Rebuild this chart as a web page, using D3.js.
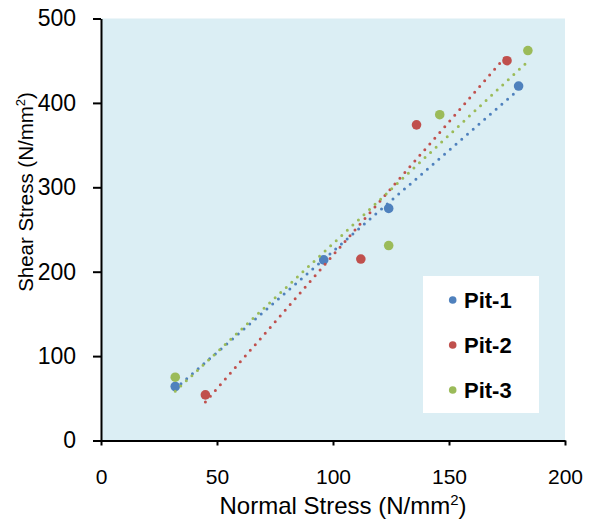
<!DOCTYPE html>
<html><head><meta charset="utf-8">
<script src="https://cdn.jsdelivr.net/npm/d3@7"></script>
<style>body{margin:0;background:#fff}svg{display:block;font-family:"Liberation Sans",Arial,sans-serif}</style>
</head><body><svg id="c" width="591" height="520"></svg>
<script>
const seriesNames = ["Pit-1", "Pit-2", "Pit-3"];
const pit1X = [32, 96, 124, 180];
const pit1Y = [64, 214, 275, 420];
const pit2X = [45, 112, 136, 175];
const pit2Y = [54, 215, 374, 450];
const pit3X = [32, 124, 146, 184];
const pit3Y = [75, 231, 386, 462];
const xTicks = [0, 50, 100, 150, 200];
const yTicks = [0, 100, 200, 300, 400, 500];
const colors = ["#4F81BD", "#C0504D", "#9BBB59"];

const series = [
  {name: seriesNames[0], xs: pit1X, ys: pit1Y, color: colors[0]},
  {name: seriesNames[1], xs: pit2X, ys: pit2Y, color: colors[1]},
  {name: seriesNames[2], xs: pit3X, ys: pit3Y, color: colors[2]}
];

const svg = d3.select("#c");
const x = d3.scaleLinear().domain([0, 200]).range([101, 565]);
const y = d3.scaleLinear().domain([0, 500]).range([440.5, 18.5]);

svg.append("rect").attr("x", x(0)).attr("y", y(500)).attr("width", x(200) - x(0)).attr("height", y(0) - y(500)).attr("fill", "#DBEEF4");

// axes
const yAxis = svg.append("g").attr("transform", `translate(${x(0)},0)`)
  .call(d3.axisLeft(y).tickValues(yTicks).tickSize(8).tickPadding(17).tickSizeOuter(0));
const xAxis = svg.append("g").attr("transform", `translate(0,${y(0)})`)
  .call(d3.axisBottom(x).tickValues(xTicks).tickSize(5).tickPadding(24).tickSizeOuter(0));
[xAxis, yAxis].forEach(g => {
  g.select(".domain").attr("stroke", "#000").attr("stroke-width", 2);
  g.selectAll(".tick line").attr("stroke", "#000").attr("stroke-width", 2);
  g.selectAll(".tick text").attr("fill", "#000").style("font-family", "'Liberation Sans', Arial, sans-serif");
});
xAxis.selectAll(".tick text").style("font-size", "21px");
yAxis.selectAll(".tick text").style("font-size", "23px");

// points
series.forEach(s => {
  svg.append("g").selectAll("circle").data(s.xs.map((v, i) => [v, s.ys[i]])).join("circle")
    .attr("cx", d => x(d[0])).attr("cy", d => y(d[1])).attr("r", 4.8).attr("fill", s.color);
});

// linear trendlines
series.forEach(s => {
  const mx = d3.mean(s.xs), my = d3.mean(s.ys);
  let sxy = 0, sxx = 0;
  s.xs.forEach((v, i) => { sxy += (v - mx) * (s.ys[i] - my); sxx += (v - mx) * (v - mx); });
  const b = sxy / sxx, a = my - b * mx;
  const x0 = d3.min(s.xs), x1 = d3.max(s.xs);
  svg.append("line").attr("x1", x(x0)).attr("y1", y(a + b * x0)).attr("x2", x(x1)).attr("y2", y(a + b * x1))
    .attr("stroke", s.color).attr("stroke-width", 3).attr("stroke-linecap", "round").attr("stroke-dasharray", "0 7.6");
});

// legend
const lg = svg.append("g");
lg.append("rect").attr("x", 423).attr("y", 276).attr("width", 116).attr("height", 137).attr("fill", "#fff");
series.forEach((s, i) => {
  const cy = 300 + i * 45;
  lg.append("circle").attr("cx", 452.7).attr("cy", cy).attr("r", 3.8).attr("fill", s.color);
  lg.append("text").attr("x", 464).attr("y", cy + 7.8).attr("font-size", 22).attr("font-weight", "bold").attr("fill", "#000").text(s.name);
});

// axis titles
const xt = svg.append("text").attr("x", 343).attr("y", 514).attr("text-anchor", "middle").attr("font-size", 24).attr("fill", "#000");
xt.append("tspan").text("Normal Stress (N/mm");
xt.append("tspan").attr("font-size", 15).attr("dy", -9).text("2");
xt.append("tspan").attr("dy", 9).text(")");

const yt = svg.append("text").attr("transform", "translate(33,192) rotate(-90)").attr("text-anchor", "middle").attr("font-size", 20.5).attr("fill", "#000");
yt.append("tspan").text("Shear Stress (N/mm");
yt.append("tspan").attr("font-size", 13).attr("dy", -8).text("2");
yt.append("tspan").attr("dy", 8).text(")");
</script></body></html>
